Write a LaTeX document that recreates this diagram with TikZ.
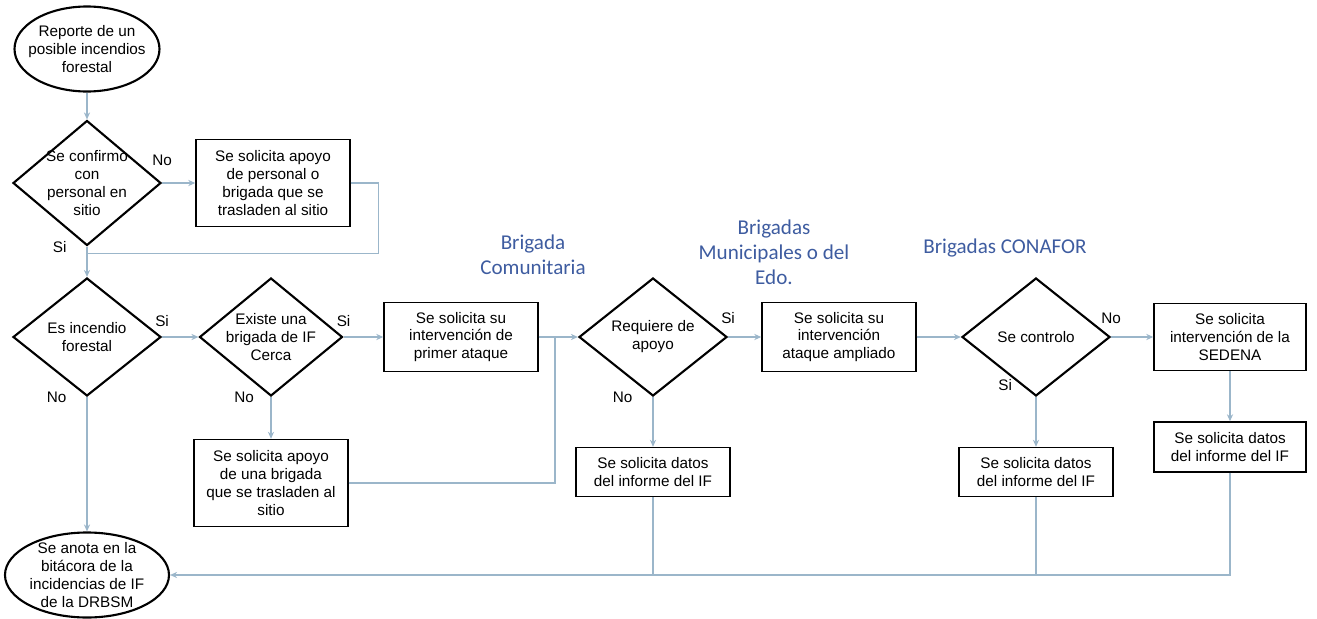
\documentclass[tikz,border=0pt]{standalone}
\usepackage{fontspec}
\setmainfont{Liberation Sans}
\newfontfamily\brigfont{Carlito}
\usetikzlibrary{shapes.geometric, positioning, arrows.meta}

\definecolor{linkgray}{RGB}{155,182,202}
\definecolor{brigblue}{RGB}{62,92,160}

\begin{document}
\begin{tikzpicture}[
    ->, >={Stealth[length=4pt,width=3.5pt]}, node distance=3.8cm,
    every node/.style={font=\fontsize{8.7}{10.2}\selectfont, align=center},
    every edge/.style={draw=linkgray, line width=0.7pt},
    term/.style={ellipse, draw, line width=1.2pt, inner sep=-20pt, minimum width=2.9cm, minimum height=1.7cm},
    decision/.style={diamond, draw, line width=1.2pt, inner sep=-20pt, minimum width=2.96cm, minimum height=2.36cm},
    process/.style={rectangle, draw, line width=0.8pt, inner sep=1pt, minimum width=3.08cm, minimum height=1.38cm},
    link/.style={draw=linkgray, line width=0.7pt},
    team/.style={font=\brigfont\fontsize{12}{14.2}\selectfont, text=brigblue}
]
    \useasboundingbox (0,0) rectangle (26.34,-12.38);

    % Inicio y confirmacion
    \node[term] (start) at (1.74,-0.98) {Reporte de un\\posible incendios\\forestal};
    \node[decision, below of=start, node distance=2.68cm, minimum height=2.5cm] (d1) {Se confirmo\\con\\personal en\\sitio};
    \node[process, right of=d1, node distance=3.72cm, minimum height=1.74cm] (apoyo1) {Se solicita apoyo\\de personal o\\brigada que se\\trasladen al sitio};

    % Fila principal
    \node[decision, below of=d1, node distance=3.08cm] (d2) {Es incendio\\forestal};
    \node[decision, right of=d2, node distance=3.68cm, minimum width=2.86cm] (d3) {Existe una\\brigada de IF\\Cerca};
    \node[process, right of=d3] (ataque1) {Se solicita su\\intervención de\\primer ataque};
    \node[decision, right of=ataque1, node distance=3.84cm] (d4) {Requiere de\\apoyo};
    \node[process, right of=d4, node distance=3.72cm] (ataque2) {Se solicita su\\intervención\\ataque ampliado};
    \node[decision, right of=ataque2, node distance=3.94cm] (d5) {Se controlo};
    \node[process, right of=d5, node distance=3.88cm, minimum width=3.04cm, minimum height=1.34cm] (sedena) {Se solicita\\intervención de la\\SEDENA};

    % Fila inferior
    \node[process, below of=d3, node distance=2.92cm, minimum height=1.74cm] (apoyo2) {Se solicita apoyo\\de una brigada\\que se trasladen al\\sitio};
    \node[process, below of=d4, node distance=2.7cm, minimum height=0.98cm] (datos1) {Se solicita datos\\del informe del IF};
    \node[process, below of=d5, node distance=2.7cm, minimum height=0.98cm] (datos2) {Se solicita datos\\del informe del IF};
    \node[process, below of=sedena, node distance=2.2cm, minimum width=3.04cm, minimum height=1cm] (datos3) {Se solicita datos\\del informe del IF};
    \node[term, below of=d2, node distance=4.76cm, minimum width=3.28cm] (fin) {Se anota en la\\bitácora de la\\incidencias de IF\\de la DRBSM};

    % Tipos de brigada
    \node[team] (comunitaria) at (10.66,-5.1) {Brigada\\Comunitaria};
    \node[team] (municipal) at (15.48,-5.04) {Brigadas\\Municipales o del\\Edo.};
    \node[team] (conafor) at (20.1,-4.96) {Brigadas CONAFOR};

    % Conexiones
    \coordinate[below=0.14cm of d1.south] (j1);
    \coordinate[left=0.46cm of d4.west] (j2);

    \path (start) edge (d1);
    \path (d1) edge node[pos=0, above=6pt] {No} (apoyo1)
               edge node[pos=0, left=8pt] {Si} (d2);
    \draw[link, -] (apoyo1.east) -- ++(0.56,0) |- (j1);

    \path (d2) edge node[pos=0, above=2pt] {Si} (d3)
               edge node[pos=0, left=8pt] {No} (fin);
    \path (d3) edge node[pos=0, above=2pt] {Si} (ataque1)
               edge node[pos=0, left=6pt] {No} (apoyo2);
    \path (ataque1) edge (d4);
    \draw[link, -] (apoyo2.east) -| (j2);

    \path (d4) edge node[pos=0, above=4pt] {Si} (ataque2)
               edge node[pos=0, left=8pt] {No} (datos1);
    \path (ataque2) edge (d5);
    \path (d5) edge node[pos=0, above=4pt] {No} (sedena)
               edge node[pos=0, above left=0pt and 10pt] {Si} (datos2);
    \path (sedena) edge (datos3);

    \draw[link] (datos3.south) |- (fin.east);
    \draw[link, -] (datos1.south) -- (datos1.south |- fin.east);
    \draw[link, -] (datos2.south) -- (datos2.south |- fin.east);

\end{tikzpicture}
\end{document}
